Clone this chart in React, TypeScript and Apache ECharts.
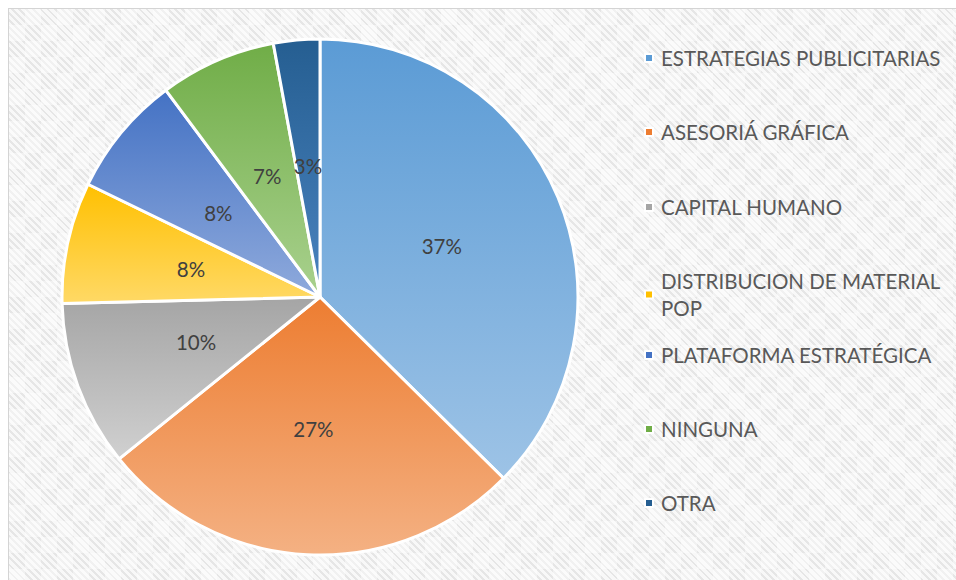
import React, { useEffect, useRef } from "react";
import * as echarts from "echarts";

const categories = [
  "ESTRATEGIAS PUBLICITARIAS",
  "ASESORIÁ GRÁFICA",
  "CAPITAL HUMANO",
  "DISTRIBUCION DE MATERIAL POP",
  "PLATAFORMA ESTRATÉGICA",
  "NINGUNA",
  "OTRA",
];
const values = [37.4, 26.8, 10.4, 7.6, 7.6, 7.3, 2.9];
const topColors = ["#5B9BD5", "#ED7D31", "#A5A5A5", "#FFC000", "#4472C4", "#70AD47", "#255E91"];
const bottomColors = ["#9DC3E6", "#F4B183", "#D0D0D0", "#FFD966", "#8FAADC", "#A9D18E", "#4A83BF"];
const legendCenters = [59, 133, 208, 282, 356, 430, 504];

const FONT = "Lato, 'Noto Sans', sans-serif";

export default function App() {
  const ref = useRef<HTMLDivElement>(null);
  useEffect(() => {
    if (!ref.current) return;
    const chart = echarts.init(ref.current, undefined, { renderer: "svg" });
    const LH = 27;
    const legends = categories.map((name, i) => {
      const multi = name === "DISTRIBUCION DE MATERIAL POP";
      const half = multi ? LH : LH / 2;
      return {
        orient: "vertical",
        left: 635,
        top: legendCenters[i] - 8 - half - 2,
        padding: 0,
        itemWidth: 8,
        itemHeight: 8,
        icon: "rect",
        selectedMode: true,
        data: [{ name, itemStyle: { color: topColors[i] } }],
        formatter: (n: string) => (n === "DISTRIBUCION DE MATERIAL POP" ? "DISTRIBUCION DE MATERIAL\nPOP" : n),
        textStyle: {
          color: "#595959",
          fontSize: 20.5,
          fontFamily: FONT,
          lineHeight: LH,
          padding: multi ? [LH, 0, 0, 3] : [0, 0, 0, 3],
        },
      };
    });
    chart.setOption({
      animation: false,
      legend: legends,
      series: [
        {
          type: "pie",
          center: [311, 288],
          radius: [0, 258],
          startAngle: 90,
          clockwise: true,
          data: categories.map((name, i) => ({
            name,
            value: values[i],
            itemStyle: {
              color: new echarts.graphic.LinearGradient(0, 0, 0, 1, [
                { offset: 0, color: topColors[i] },
                { offset: 1, color: bottomColors[i] },
              ]),
            },
          })),
          itemStyle: { borderColor: "#ffffff", borderWidth: 3 },
          label: {
            show: true,
            position: "inside",
            formatter: (p: any) => Math.round(p.percent) + "%",
            color: "#404040",
            fontSize: 20.5,
            fontFamily: FONT,
          },
          labelLine: { show: false },
          emphasis: { scale: false },
        },
      ],
    });
    return () => chart.dispose();
  }, []);
  return (
    <div
      style={{
        position: "fixed",
        left: 8,
        top: 8,
        width: 948,
        height: 572,
        boxSizing: "border-box",
        borderTop: "1px solid #d4d4d4",
        borderLeft: "1px solid #d4d4d4",
        backgroundColor: "#f3f3f3",
        backgroundImage:
          "conic-gradient(rgba(255,255,255,0.45) 25%, rgba(0,0,0,0) 0 50%, rgba(255,255,255,0.45) 0 75%, rgba(0,0,0,0) 0), repeating-linear-gradient(45deg, #e6e6e6 0 2px, #f8f8f8 2px 5px)",
        backgroundSize: "32px 32px, auto",
      }}
    >
      <div ref={ref} style={{ width: 947, height: 571 }} />
    </div>
  );
}
